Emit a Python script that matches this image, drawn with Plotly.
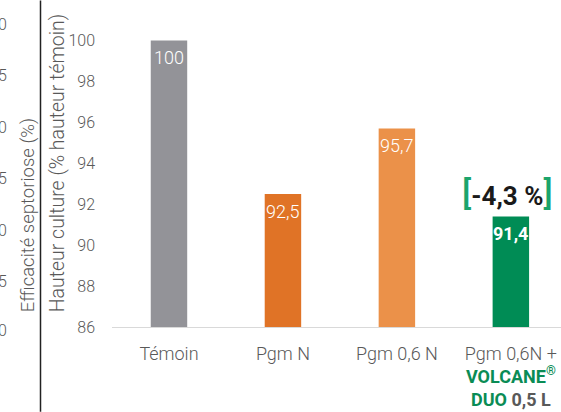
import plotly.graph_objects as go

categories = ["Témoin", "Pgm N", "Pgm 0,6 N", "Pgm 0,6N +"]
tick_labels = [
    "Témoin",
    "Pgm N",
    "Pgm 0,6 N",
    "Pgm 0,6N +<br><b><span style='color:#0a8c55'>VOLCANE<sup>®</sup></span></b>"
    "<br><b><span style='color:#0a8c55'>DUO</span> 0,5 L</b>",
]
values = [100, 92.5, 95.7, 91.4]
value_labels = ["100", "92,5", "95,7", "<b>91,4</b>"]
bar_colors = ["#939398", "#e07326", "#eb9149", "#008c55"]
y_ticks = [86, 88, 90, 92, 94, 96, 98, 100]
left_ticks = ["30", "25", "20", "15", "10", "5", "0"]
left_tick_y = [24, 75, 127, 178, 230, 281, 331]
reduction_label = "-4,3 %"

FONT = "Roboto"
W, H = 561, 412
L, R, T, B = 112, 0, 19.5, 85
pw, ph = W - L - R, H - T - B


def px_x(p):
    return (p - L) / pw


def px_y(p):
    return (H - B - p) / ph


fig = go.Figure()
fig.add_trace(go.Bar(
    x=categories, y=values, marker=dict(color=bar_colors, line=dict(width=0)),
    width=0.32, base=0, hoverinfo="skip",
))

annotations = []
for c, v, t in zip(categories, values, value_labels):
    annotations.append(dict(
        x=c, y=v, xref="x", yref="y", text=t, showarrow=False,
        yanchor="top", yshift=-5,
        font=dict(family=FONT, size=18, color="white", weight=300),
    ))

# reduction annotation above the last bar
annotations.append(dict(
    x=categories[3], y=values[3], xref="x", yref="y",
    text="<span style='color:#1ba46c;font-size:34px;font-weight:500'>[</span>"
         f"<b>{reduction_label}</b>"
         "<span style='color:#1ba46c;font-size:34px;font-weight:500'>]</span>",
    showarrow=False, yanchor="bottom", yshift=1, xshift=-3,
    font=dict(family=FONT, size=26, color="#1a1a1a"),
))

# axis titles
annotations.append(dict(
    x=px_x(57), y=px_y(163), xref="paper", yref="paper",
    text="Hauteur culture (% hauteur témoin)", textangle=-90,
    showarrow=False, xanchor="center", yanchor="middle",
    font=dict(family=FONT, size=19.5, color="#595959", weight=300),
))
annotations.append(dict(
    x=px_x(28), y=px_y(215), xref="paper", yref="paper",
    text="Efficacité septoriose (%)", textangle=-90,
    showarrow=False, xanchor="center", yanchor="middle",
    font=dict(family=FONT, size=18.5, color="#595959", weight=300),
))
for t, yy in zip(left_ticks, left_tick_y):
    annotations.append(dict(
        x=px_x(9), y=px_y(yy), xref="paper", yref="paper", text=t,
        showarrow=False, xanchor="right", yanchor="middle",
        font=dict(family=FONT, size=16, color="#595959", weight=300),
    ))

fig.add_shape(type="line", xref="paper", yref="paper",
              x0=px_x(40.5), x1=px_x(40.5), y0=px_y(H), y1=px_y(0),
              line=dict(color="#222222", width=1.5))

fig.update_layout(
    width=W, height=H,
    margin=dict(l=L, r=R, t=T, b=B, pad=0),
    paper_bgcolor="white", plot_bgcolor="white",
    showlegend=False, bargap=0.68,
    annotations=annotations,
    font=dict(family=FONT, color="#595959"),
    xaxis=dict(
        range=[-0.5, 3.44], tickmode="array", tickvals=categories,
        ticktext=tick_labels, showgrid=False, zeroline=False,
        showline=True, linecolor="#d9d9d9", linewidth=1,
        ticks="", tickfont=dict(family=FONT, size=18, color="#595959", weight=300),
        ticklabelstandoff=10, automargin=False,
    ),
    yaxis=dict(
        range=[86, 101], tickvals=y_ticks, showgrid=False, zeroline=False,
        showline=False, ticks="",
        tickfont=dict(family=FONT, size=16, color="#595959", weight=300),
        ticklabelstandoff=16, automargin=False,
    ),
)

fig.write_html(
    "out.html",
    config={"displayModeBar": False, "staticPlot": True},
    post_script="document.body.style.margin='0';document.body.style.overflow='hidden';",
)
